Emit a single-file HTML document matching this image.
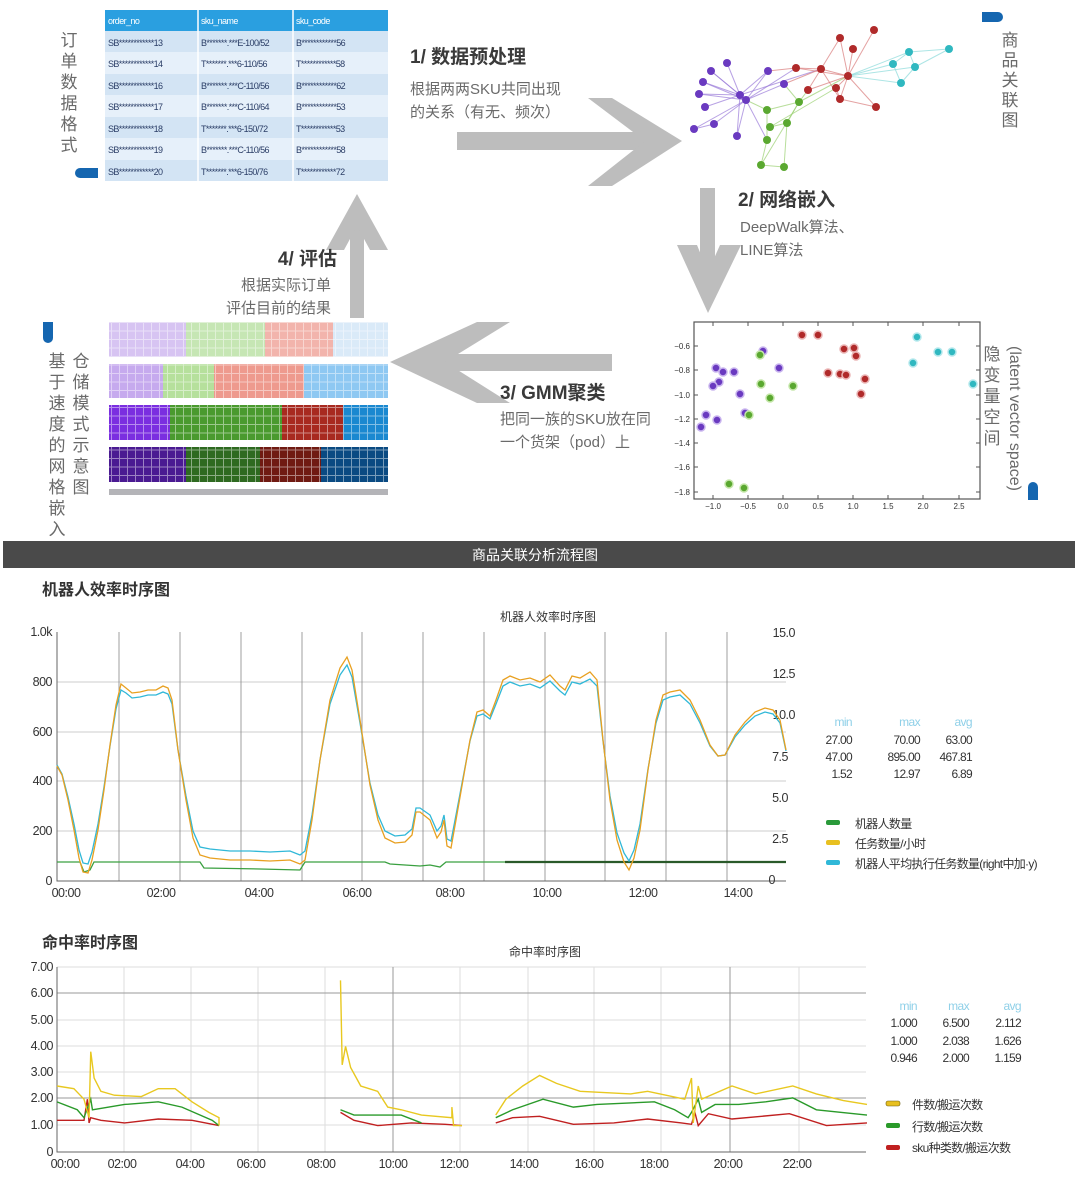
<!DOCTYPE html>
<html><head><meta charset="utf-8"><style>
html,body{margin:0;padding:0;background:#fff;}
svg{display:block;font-family:"Liberation Sans","Noto Sans CJK SC",sans-serif;}
.h{font-weight:bold;fill:#3a3a3a;font-size:19px;}
.s{fill:#6a6a6a;font-size:15px;}
.v{fill:#6a6a6a;font-size:17px;}
.t{font-size:9px;fill:#2a3d66;letter-spacing:-0.6px;}
.ax{font-size:12.5px;fill:#333;letter-spacing:-0.5px;}
.lg{font-size:12px;fill:#333;letter-spacing:-0.7px;}
.mm{font-size:12px;fill:#8fd0e8;letter-spacing:-0.6px;}
</style></head><body>
<svg width="1080" height="1187" viewBox="0 0 1080 1187" xmlns="http://www.w3.org/2000/svg">
<defs>
<pattern id="gp" width="8" height="8.5" patternUnits="userSpaceOnUse">
<path d="M7.5 0V8.5M0 8H8" stroke="#fff" stroke-opacity="0.45" stroke-width="1"/>
</pattern>
</defs>

<!-- TABLE -->
<rect x="105" y="10" width="283" height="21" fill="#2a9fe0"/>
<g fill="#d3e4f4">
<rect x="105" y="31" width="283" height="21"/><rect x="105" y="74" width="283" height="21"/>
<rect x="105" y="117" width="283" height="21"/><rect x="105" y="160" width="283" height="21"/>
</g>
<g fill="#e6f0fa">
<rect x="105" y="52" width="283" height="22"/><rect x="105" y="95" width="283" height="22"/><rect x="105" y="138" width="283" height="22"/>
</g>
<g stroke="#fff" stroke-width="1.5"><line x1="198" y1="10" x2="198" y2="181"/><line x1="293" y1="10" x2="293" y2="181"/></g>
<g class="t"><text x="108" y="24" fill="#fff" style="fill:#fff">order_no</text><text x="201" y="24" style="fill:#fff">sku_name</text><text x="296" y="24" style="fill:#fff">sku_code</text></g>
<g class="t">
<text x="108" y="46">SB************13</text><text x="201" y="46">B*******.***E-100/52</text><text x="296" y="46">B************56</text>
<text x="108" y="67">SB************14</text><text x="201" y="67">T*******.***6-110/56</text><text x="296" y="67">T************58</text>
<text x="108" y="89">SB************16</text><text x="201" y="89">B*******.***C-110/56</text><text x="296" y="89">B************62</text>
<text x="108" y="110">SB************17</text><text x="201" y="110">B*******.***C-110/64</text><text x="296" y="110">B************53</text>
<text x="108" y="132">SB************18</text><text x="201" y="132">T*******.***6-150/72</text><text x="296" y="132">T************53</text>
<text x="108" y="153">SB************19</text><text x="201" y="153">B*******.***C-110/56</text><text x="296" y="153">B************58</text>
<text x="108" y="175">SB************20</text><text x="201" y="175">T*******.***6-150/76</text><text x="296" y="175">T************72</text>
</g>
<g class="v" text-anchor="middle">
<text x="69" y="46">订</text><text x="69" y="67">单</text><text x="69" y="88">数</text><text x="69" y="109">据</text><text x="69" y="130">格</text><text x="69" y="151">式</text>
</g>
<path d="M80 168 H98 V178 H80 A5 5 0 0 1 80 168Z" fill="#1566b0"/>

<!-- step 1 -->
<text x="410" y="63" class="h">1/ 数据预处理</text>
<text x="410" y="94" class="s">根据两两SKU共同出现</text>
<text x="410" y="117" class="s">的关系（有无、频次）</text>

<!-- arrows -->
<g fill="#bdbdbd">
<rect x="457" y="132" width="190" height="18"/>
<polygon points="588,98 612,98 682,141 612,186 588,186 645,141"/>
<rect x="700" y="188" width="15" height="90"/>
<polygon points="677,245 697,245 708,272 720,245 741,245 708,313"/>
<rect x="430" y="354" width="182" height="17"/>
<polygon points="390,362 477,322 510,322 445,362 510,403 477,403"/>
<rect x="350" y="222" width="14" height="96"/>
<polygon points="326,250 357,194 388,250 370,250 357,226 344,250"/>
</g>

<!-- network -->
<g stroke-width="1" stroke-opacity="0.7">
<g stroke="#9a7ad8">
<line x1="740" y1="95" x2="711" y2="71"/><line x1="740" y1="95" x2="727" y2="63"/><line x1="740" y1="95" x2="703" y2="82"/><line x1="740" y1="95" x2="699" y2="94"/><line x1="740" y1="95" x2="705" y2="107"/><line x1="746" y1="100" x2="694" y2="129"/><line x1="746" y1="100" x2="714" y2="124"/><line x1="746" y1="100" x2="737" y2="136"/><line x1="740" y1="95" x2="768" y2="71"/><line x1="746" y1="100" x2="784" y2="84"/><line x1="746" y1="100" x2="711" y2="71"/><line x1="746" y1="100" x2="703" y2="82"/><line x1="746" y1="100" x2="699" y2="94"/><line x1="746" y1="100" x2="768" y2="71"/><line x1="714" y1="124" x2="694" y2="129"/><line x1="740" y1="95" x2="737" y2="136"/><line x1="746" y1="100" x2="796" y2="68"/><line x1="740" y1="95" x2="821" y2="69"/><line x1="746" y1="100" x2="767" y2="140"/>
</g>
<g stroke="#9ad070">
<line x1="746" y1="100" x2="767" y2="110"/><line x1="767" y1="110" x2="799" y2="102"/><line x1="799" y1="102" x2="787" y2="123"/><line x1="787" y1="123" x2="770" y2="127"/><line x1="787" y1="123" x2="784" y2="167"/><line x1="767" y1="140" x2="761" y2="165"/><line x1="761" y1="165" x2="784" y2="167"/><line x1="799" y1="102" x2="761" y2="165"/><line x1="767" y1="110" x2="767" y2="140"/><line x1="799" y1="102" x2="848" y2="76"/><line x1="799" y1="102" x2="808" y2="90"/><line x1="770" y1="127" x2="836" y2="88"/><line x1="784" y1="84" x2="799" y2="102"/>
</g>
<g stroke="#d87a7a">
<line x1="848" y1="76" x2="840" y2="38"/><line x1="848" y1="76" x2="874" y2="30"/><line x1="848" y1="76" x2="853" y2="49"/><line x1="848" y1="76" x2="796" y2="68"/><line x1="848" y1="76" x2="821" y2="69"/><line x1="848" y1="76" x2="808" y2="90"/><line x1="848" y1="76" x2="836" y2="88"/><line x1="848" y1="76" x2="840" y2="99"/><line x1="848" y1="76" x2="876" y2="107"/><line x1="821" y1="69" x2="796" y2="68"/><line x1="821" y1="69" x2="840" y2="38"/><line x1="821" y1="69" x2="808" y2="90"/><line x1="796" y1="68" x2="768" y2="71"/><line x1="836" y1="88" x2="840" y2="99"/><line x1="821" y1="69" x2="840" y2="99"/><line x1="840" y1="99" x2="876" y2="107"/><line x1="784" y1="84" x2="821" y2="69"/>
</g>
<g stroke="#8adada">
<line x1="848" y1="76" x2="909" y2="52"/><line x1="848" y1="76" x2="893" y2="64"/><line x1="848" y1="76" x2="915" y2="67"/><line x1="909" y1="52" x2="949" y2="49"/><line x1="915" y1="67" x2="949" y2="49"/><line x1="893" y1="64" x2="909" y2="52"/><line x1="893" y1="64" x2="901" y2="83"/><line x1="901" y1="83" x2="915" y2="67"/><line x1="909" y1="52" x2="915" y2="67"/><line x1="848" y1="76" x2="901" y2="83"/>
</g>
</g>
<g fill="#6a3ac0"><circle cx="740" cy="95" r="4"/><circle cx="746" cy="100" r="4"/><circle cx="711" cy="71" r="4"/><circle cx="727" cy="63" r="4"/><circle cx="703" cy="82" r="4"/><circle cx="699" cy="94" r="4"/><circle cx="705" cy="107" r="4"/><circle cx="694" cy="129" r="4"/><circle cx="714" cy="124" r="4"/><circle cx="737" cy="136" r="4"/><circle cx="768" cy="71" r="4"/><circle cx="784" cy="84" r="4"/></g>
<g fill="#5aa830"><circle cx="767" cy="110" r="4"/><circle cx="799" cy="102" r="4"/><circle cx="770" cy="127" r="4"/><circle cx="787" cy="123" r="4"/><circle cx="767" cy="140" r="4"/><circle cx="761" cy="165" r="4"/><circle cx="784" cy="167" r="4"/></g>
<g fill="#b02a2a"><circle cx="840" cy="38" r="4"/><circle cx="874" cy="30" r="4"/><circle cx="853" cy="49" r="4"/><circle cx="796" cy="68" r="4"/><circle cx="821" cy="69" r="4"/><circle cx="848" cy="76" r="4"/><circle cx="808" cy="90" r="4"/><circle cx="836" cy="88" r="4"/><circle cx="840" cy="99" r="4"/><circle cx="876" cy="107" r="4"/></g>
<g fill="#30b8c0"><circle cx="909" cy="52" r="4"/><circle cx="949" cy="49" r="4"/><circle cx="893" cy="64" r="4"/><circle cx="915" cy="67" r="4"/><circle cx="901" cy="83" r="4"/></g>
<path d="M982 12 H998 A5 5 0 0 1 998 22 H982Z" fill="#1566b0"/>
<g class="v" text-anchor="middle">
<text x="1010" y="46">商</text><text x="1010" y="66">品</text><text x="1010" y="86">关</text><text x="1010" y="106">联</text><text x="1010" y="126">图</text>
</g>

<!-- step 2 -->
<text x="738" y="206" class="h">2/ 网络嵌入</text>
<text x="740" y="232" class="s">DeepWalk算法、</text>
<text x="740" y="255" class="s">LINE算法</text>

<!-- scatter -->
<rect x="694" y="322" width="286" height="177" fill="#fff" stroke="#555" stroke-width="1.2"/>
<g font-size="8" fill="#333" text-anchor="end">
<text x="690" y="349">−0.6</text><text x="690" y="373">−0.8</text><text x="690" y="398">−1.0</text><text x="690" y="422">−1.2</text><text x="690" y="446">−1.4</text><text x="690" y="470">−1.6</text><text x="690" y="495">−1.8</text>
</g>
<g font-size="8" fill="#333" text-anchor="middle">
<text x="713" y="509">−1.0</text><text x="748" y="509">−0.5</text><text x="783" y="509">0.0</text><text x="818" y="509">0.5</text><text x="853" y="509">1.0</text><text x="888" y="509">1.5</text><text x="923" y="509">2.0</text><text x="959" y="509">2.5</text>
</g>
<g stroke="#555" stroke-width="1">
<path d="M694 346h4M694 370h4M694 395h4M694 419h4M694 443h4M694 467h4M694 492h4M976 346h4M976 370h4M976 395h4M976 419h4M976 443h4M976 467h4M976 492h4"/>
<path d="M713 499v-4M748 499v-4M783 499v-4M818 499v-4M853 499v-4M888 499v-4M923 499v-4M959 499v-4M713 322v4M748 322v4M783 322v4M818 322v4M853 322v4M888 322v4M923 322v4M959 322v4"/>
</g>
<g fill="#6a3ac0" stroke="#c8b4ee" stroke-width="1.5"><circle cx="763" cy="351" r="4"/><circle cx="716" cy="368" r="4"/><circle cx="723" cy="372" r="4"/><circle cx="734" cy="372" r="4"/><circle cx="779" cy="368" r="4"/><circle cx="719" cy="382" r="4"/><circle cx="713" cy="386" r="4"/><circle cx="740" cy="394" r="4"/><circle cx="745" cy="413" r="4"/><circle cx="706" cy="415" r="4"/><circle cx="717" cy="420" r="4"/><circle cx="701" cy="427" r="4"/></g>
<g fill="#5aa830" stroke="#c4e6a8" stroke-width="1.5"><circle cx="760" cy="355" r="4"/><circle cx="761" cy="384" r="4"/><circle cx="770" cy="398" r="4"/><circle cx="793" cy="386" r="4"/><circle cx="749" cy="415" r="4"/><circle cx="729" cy="484" r="4"/><circle cx="744" cy="488" r="4"/></g>
<g fill="#b02a2a" stroke="#eab4b4" stroke-width="1.5"><circle cx="802" cy="335" r="4"/><circle cx="818" cy="335" r="4"/><circle cx="844" cy="349" r="4"/><circle cx="854" cy="348" r="4"/><circle cx="856" cy="356" r="4"/><circle cx="828" cy="373" r="4"/><circle cx="840" cy="374" r="4"/><circle cx="846" cy="375" r="4"/><circle cx="865" cy="379" r="4"/><circle cx="861" cy="394" r="4"/></g>
<g fill="#30b8c0" stroke="#b4e8ec" stroke-width="1.5"><circle cx="917" cy="337" r="4"/><circle cx="913" cy="363" r="4"/><circle cx="938" cy="352" r="4"/><circle cx="952" cy="352" r="4"/><circle cx="973" cy="384" r="4"/></g>
<g class="v" text-anchor="middle">
<text x="992" y="360">隐</text><text x="992" y="381">变</text><text x="992" y="402">量</text><text x="992" y="423">空</text><text x="992" y="444">间</text>
</g>
<text transform="translate(1010,346) rotate(90)" class="v" style="font-size:16px">(latent vector space)</text>
<path d="M1028 500 V487 A5 5 0 0 1 1038 487 V500Z" fill="#1566b0"/>

<!-- step 3 -->
<text x="500" y="399" class="h">3/ GMM聚类</text>
<text x="500" y="424" class="s">把同一族的SKU放在同</text>
<text x="500" y="447" class="s">一个货架（pod）上</text>

<!-- step 4 -->
<text x="337" y="265" class="h" text-anchor="end">4/ 评估</text>
<text x="331" y="290" class="s" text-anchor="end">根据实际订单</text>
<text x="331" y="313" class="s" text-anchor="end">评估目前的结果</text>

<!-- grid -->
<rect x="109" y="322" width="77" height="35" fill="#d7c4f2"/><rect x="186" y="322" width="79" height="35" fill="#c6e6b4"/><rect x="265" y="322" width="68" height="35" fill="#f2b4ac"/><rect x="333" y="322" width="55" height="35" fill="#daeaf8"/>
<rect x="109" y="364" width="54" height="34" fill="#c6aaee"/><rect x="163" y="364" width="51" height="34" fill="#b6e09c"/><rect x="214" y="364" width="90" height="34" fill="#ee9a8e"/><rect x="304" y="364" width="84" height="34" fill="#8ec8f2"/>
<rect x="109" y="405" width="61" height="35" fill="#7a2ee0"/><rect x="170" y="405" width="112" height="35" fill="#4a9a2e"/><rect x="282" y="405" width="61" height="35" fill="#a82a20"/><rect x="343" y="405" width="45" height="35" fill="#1a88d0"/>
<rect x="109" y="447" width="77" height="35" fill="#4a1a92"/><rect x="186" y="447" width="74" height="35" fill="#2e6a20"/><rect x="260" y="447" width="61" height="35" fill="#701a12"/><rect x="321" y="447" width="67" height="35" fill="#0a4a82"/>
<rect x="109" y="322" width="279" height="160" fill="url(#gp)"/>
<rect x="109" y="357" width="279" height="7" fill="#fff"/><rect x="109" y="398" width="279" height="7" fill="#fff"/><rect x="109" y="440" width="279" height="7" fill="#fff"/>
<rect x="109" y="489" width="279" height="6" fill="#b4b4b8"/>
<path d="M43 322 H53 V338 A5 5 0 0 1 43 338Z" fill="#1566b0"/>
<g class="v" text-anchor="middle">
<text x="57" y="367">基</text><text x="57" y="388">于</text><text x="57" y="409">速</text><text x="57" y="430">度</text><text x="57" y="451">的</text><text x="57" y="472">网</text><text x="57" y="493">格</text><text x="57" y="514">嵌</text><text x="57" y="535">入</text>
<text x="81" y="367">仓</text><text x="81" y="388">储</text><text x="81" y="409">模</text><text x="81" y="430">式</text><text x="81" y="451">示</text><text x="81" y="472">意</text><text x="81" y="493">图</text>
</g>

<!-- banner -->
<rect x="3" y="541" width="1072" height="27" fill="#4a4a4a"/>
<text x="535" y="560" fill="#fff" font-size="14" text-anchor="middle">商品关联分析流程图</text>

<!-- CHART 1 -->
<text x="42" y="595" font-size="16" font-weight="bold" fill="#333">机器人效率时序图</text>
<text x="548" y="621" font-size="12" fill="#333" text-anchor="middle">机器人效率时序图</text>
<g stroke="#ccc" stroke-width="1">
<path d="M57 682H786M57 732H786M57 781H786M57 831H786"/>
</g>
<g stroke="#888" stroke-width="0.8">
<path d="M119 632V881M180 632V881M241 632V881M302 632V881M362 632V881M423 632V881M484 632V881M545 632V881M605 632V881M666 632V881M727 632V881"/>
</g>
<path d="M57 632V881H786" stroke="#666" stroke-width="1" fill="none"/>
<g class="ax" text-anchor="end">
<text x="52" y="636">1.0k</text><text x="52" y="686">800</text><text x="52" y="736">600</text><text x="52" y="785">400</text><text x="52" y="835">200</text><text x="52" y="885">0</text>
</g>
<g class="ax" text-anchor="end">
<text x="795" y="637">15.0</text><text x="795" y="678">12.5</text><text x="795" y="719">10.0</text><text x="788" y="761">7.5</text><text x="788" y="802">5.0</text><text x="788" y="843">2.5</text><text x="775" y="884">0</text>
</g>
<g class="ax" text-anchor="middle">
<text x="66" y="897">00:00</text><text x="161" y="897">02:00</text><text x="259" y="897">04:00</text><text x="357" y="897">06:00</text><text x="450" y="897">08:00</text><text x="547" y="897">10:00</text><text x="643" y="897">12:00</text><text x="738" y="897">14:00</text>
</g>
<!-- green -->
<polyline fill="none" stroke="#3aa040" stroke-width="1.3" points="57,862 80,862 84,872 90,870 94,862 200,862 204,868 260,869 300,870 305,862 385,862 390,864 420,866 430,865 440,867 446,862 786,862"/>
<path d="M505 862H786" stroke="#2a5a2a" stroke-width="2.2"/>
<!-- cyan -->
<polyline fill="none" stroke="#30b8d8" stroke-width="1.3" points="57,765 62,774 68,797 74,824 79,850 83,863 88,864 92,852 98,824 104,787 110,746 116,709 121,690 126,693 132,698 140,697 148,695 156,695 163,692 168,694 172,704 178,750 186,796 193,831 200,847 210,849 230,851 250,851 270,852 290,851 300,855 305,851 312,815 320,760 330,704 340,675 347,665 352,677 360,723 370,783 378,815 385,831 395,836 405,835 412,829 416,808 420,808 430,815 437,831 441,826 444,815 447,839 451,841 456,815 463,778 470,741 477,716 483,714 490,719 496,704 503,686 510,682 520,686 530,684 540,688 550,681 560,691 565,695 572,682 580,684 590,679 597,686 603,741 610,796 617,833 624,853 629,861 634,850 640,824 648,769 656,723 663,700 670,697 680,695 690,704 700,723 710,746 718,756 725,755 735,737 745,725 755,716 765,712 773,714 780,723 786,751"/>
<!-- orange -->
<polyline fill="none" stroke="#e8a020" stroke-width="1.3" points="57,766 62,775 68,800 74,830 79,858 83,872 88,873 92,860 98,830 104,790 110,745 116,705 121,684 126,688 132,693 140,692 148,690 156,690 163,686 168,688 172,700 178,750 186,800 193,838 200,855 210,858 230,860 250,860 270,861 290,860 300,864 305,860 312,820 320,760 330,700 340,668 347,657 352,670 360,720 370,785 378,820 385,838 395,843 405,842 412,835 416,812 420,812 430,820 437,838 441,832 444,820 447,846 451,848 456,820 463,780 470,740 477,712 483,710 490,716 496,700 503,680 510,676 520,680 530,678 540,682 550,675 560,686 565,690 572,676 580,678 590,672 597,680 603,740 610,800 617,840 624,862 629,870 634,858 640,830 648,770 656,720 663,695 670,692 680,690 690,700 700,720 710,745 718,756 725,755 735,735 745,722 755,712 765,708 773,710 780,720 786,750"/>
<g class="mm" text-anchor="end"><text x="852" y="726">min</text><text x="920" y="726">max</text><text x="972" y="726">avg</text></g>
<g class="lg" text-anchor="end">
<text x="852" y="744">27.00</text><text x="920" y="744">70.00</text><text x="972" y="744">63.00</text>
<text x="852" y="761">47.00</text><text x="920" y="761">895.00</text><text x="972" y="761">467.81</text>
<text x="852" y="778">1.52</text><text x="920" y="778">12.97</text><text x="972" y="778">6.89</text>
</g>
<rect x="826" y="820" width="14" height="5" rx="2" fill="#2a9a3a"/>
<rect x="826" y="840" width="14" height="5" rx="2" fill="#e8c020"/>
<rect x="826" y="860" width="14" height="5" rx="2" fill="#30b8d8"/>
<g class="lg"><text x="855" y="828">机器人数量</text><text x="855" y="848">任务数量/小时</text><text x="855" y="868">机器人平均执行任务数量(right中加·y)</text></g>

<!-- CHART 2 -->
<text x="42" y="948" font-size="16" font-weight="bold" fill="#333">命中率时序图</text>
<text x="545" y="956" font-size="12" fill="#333" text-anchor="middle">命中率时序图</text>
<g stroke="#ddd" stroke-width="1">
<path d="M57 967H866M57 1020H866M57 1046H866M57 1072H866M57 1125H866"/>
<path d="M124 967V1152M191 967V1152M258 967V1152M325 967V1152M460 967V1152M528 967V1152M594 967V1152M661 967V1152M799 967V1152"/>
</g>
<g stroke="#999" stroke-width="1"><path d="M57 993H866M57 1098H866M393 967V1152M730 967V1152"/></g>
<path d="M57 967V1152H866" stroke="#666" stroke-width="1" fill="none"/>
<g class="ax" text-anchor="end">
<text x="53" y="971">7.00</text><text x="53" y="997">6.00</text><text x="53" y="1024">5.00</text><text x="53" y="1050">4.00</text><text x="53" y="1076">3.00</text><text x="53" y="1102">2.00</text><text x="53" y="1129">1.00</text><text x="53" y="1156">0</text>
</g>
<g class="ax" text-anchor="middle">
<text x="65" y="1168">00:00</text><text x="122" y="1168">02:00</text><text x="190" y="1168">04:00</text><text x="251" y="1168">06:00</text><text x="321" y="1168">08:00</text><text x="393" y="1168">10:00</text><text x="454" y="1168">12:00</text><text x="524" y="1168">14:00</text><text x="589" y="1168">16:00</text><text x="654" y="1168">18:00</text><text x="728" y="1168">20:00</text><text x="797" y="1168">22:00</text>
</g>
<g transform="translate(57,1152) scale(33.75,-26.4)" fill="none" stroke-width="1.4">
<g stroke="#c02020">
<polyline vector-effect="non-scaling-stroke" points="0,1.2 0.8,1.2 0.9,2.0 0.95,1.1 1.0,1.3 1.3,1.2 2,1.1 3,1.25 4,1.2 4.8,1.0"/>
<polyline vector-effect="non-scaling-stroke" points="8.4,1.5 8.8,1.2 9.5,1.0 10.5,1.1 11.5,1.05 12,1.0"/>
<polyline vector-effect="non-scaling-stroke" points="13,1.1 13.5,1.3 14.3,1.35 15.3,1.05 16.5,1.1 17.5,1.25 18.5,1.1 18.8,1.05 18.9,1.5 19.0,1.0 19.3,1.45 20,1.25 21.7,1.45 22.8,1.0 24,1.1"/>
</g>
<g stroke="#2a9a2a">
<polyline vector-effect="non-scaling-stroke" points="0,1.9 0.6,1.6 0.8,1.3 1.0,2.0 1.05,1.6 2,1.8 3,1.9 3.7,1.7 4.6,1.2 4.8,1.0"/>
<polyline vector-effect="non-scaling-stroke" points="8.4,1.6 8.8,1.4 9.5,1.4 10.2,1.4 10.8,1.1"/>
<polyline vector-effect="non-scaling-stroke" points="13,1.3 13.5,1.6 14.4,2.0 15.3,1.7 16,1.8 17.7,1.9 18.3,1.6 18.7,1.3 18.8,1.5 19.0,2.0 19.1,1.5 19.5,1.8 20.2,1.8 21,1.9 21.8,2.05 22.5,1.6 24,1.4"/>
</g>
<g stroke="#e8c820">
<polyline vector-effect="non-scaling-stroke" points="0,2.5 0.5,2.4 0.8,2.0 0.95,1.3 1.0,3.8 1.1,2.8 1.3,2.3 1.7,2.15 2.5,2.1 3,2.4 3.5,2.4 4.0,1.9 4.5,1.5 4.8,1.3 4.8,1.0"/>
<polyline vector-effect="non-scaling-stroke" points="8.4,6.5 8.45,3.3 8.55,4.0 8.7,3.2 9.0,2.5 9.5,2.3 9.8,1.7 10.2,1.6 10.8,1.4 11.7,1.3 11.7,1.7 11.75,1.0 12,1.0"/>
<polyline vector-effect="non-scaling-stroke" points="13,1.4 13.3,2.0 13.8,2.5 14.3,2.9 14.8,2.6 15.5,2.3 17,2.2 17.5,2.3 18.6,2.0 18.8,2.8 18.85,1.1 19.0,2.5 19.1,2.0 20,2.5 20.7,2.2 21.8,2.5 22.5,2.2 23.3,1.95 24,1.8"/>
</g>
</g>
<g class="mm" text-anchor="end"><text x="917" y="1010">min</text><text x="969" y="1010">max</text><text x="1021" y="1010">avg</text></g>
<g class="lg" text-anchor="end">
<text x="917" y="1027">1.000</text><text x="969" y="1027">6.500</text><text x="1021" y="1027">2.112</text>
<text x="917" y="1045">1.000</text><text x="969" y="1045">2.038</text><text x="1021" y="1045">1.626</text>
<text x="917" y="1062">0.946</text><text x="969" y="1062">2.000</text><text x="1021" y="1062">1.159</text>
</g>
<rect x="886" y="1101" width="14" height="5" rx="2" fill="#e8c020" stroke="#6a5a10" stroke-width="0.6"/>
<rect x="886" y="1123" width="14" height="5" rx="2" fill="#2a9a2a"/>
<rect x="886" y="1145" width="14" height="5" rx="2" fill="#c02020"/>
<g class="lg"><text x="912" y="1109">件数/搬运次数</text><text x="912" y="1131">行数/搬运次数</text><text x="912" y="1152">sku种类数/搬运次数</text></g>
</svg>
</body></html>
